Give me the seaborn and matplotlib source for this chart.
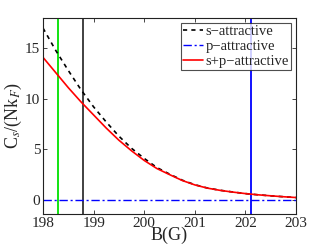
import numpy as np
import pandas as pd
import matplotlib
matplotlib.use('Agg')
import matplotlib.pyplot as plt
import seaborn as sns

# data
B = [198.0, 198.25, 198.5, 198.75, 199.0, 199.25, 199.5, 199.75, 200.0, 200.25, 200.5,
     200.75, 201.0, 201.25, 201.5, 201.75, 202.0, 202.25, 202.5, 202.75, 203.0]
s_attr = [17.0, 14.8, 12.8, 10.9, 9.2, 7.7, 6.3, 5.1, 4.1, 3.2, 2.55,
          1.95, 1.5, 1.17, 0.95, 0.78, 0.62, 0.5, 0.4, 0.31, 0.23]
p_attr = [0.0] * len(B)
sp_attr = [14.1, 12.6, 11.1, 9.7, 8.4, 7.1, 5.9, 4.85, 3.9, 3.1, 2.5,
           1.92, 1.48, 1.16, 0.94, 0.77, 0.62, 0.5, 0.4, 0.31, 0.23]
vlines = [198.3, 198.8, 202.1]
vline_colors = ['#00e000', '#333333', '#0000ff']

df = pd.DataFrame({'B': B, 's': s_attr, 'p': p_attr, 'sp': sp_attr})

sns.set_style('ticks')
plt.rcParams['font.family'] = ['Liberation Serif', 'DejaVu Serif']
plt.rcParams['mathtext.fontset'] = 'stix'
plt.rcParams['xtick.direction'] = 'in'
plt.rcParams['ytick.direction'] = 'in'

fig = plt.figure(figsize=(3.27, 2.46), dpi=100)
ax = fig.add_axes([0.1315, 0.13, 0.774, 0.797])

for x, c in zip(vlines, vline_colors):
    ax.axvline(x, color=c, lw=1.3)

sns.lineplot(data=df, x='B', y='s', ax=ax, color='black', lw=1.2, linestyle=(0, (2.5, 2.5)), label='s\u2212attractive')
sns.lineplot(data=df, x='B', y='p', ax=ax, color='blue', lw=1.0, linestyle=(0, (6, 2, 1.5, 2)), label='p\u2212attractive')
sns.lineplot(data=df, x='B', y='sp', ax=ax, color='red', lw=1.2, label='s+p\u2212attractive')

ax.set_xlim(198, 203)
ax.set_ylim(-1.4, 18)
ax.set_xticks([198, 199, 200, 201, 202, 203])
ax.set_yticks([0, 5, 10, 15])
ax.tick_params(labelsize=11, length=3, width=0.6, top=True, right=True, pad=2)
for sp in ax.spines.values():
    sp.set_linewidth(0.8)
    sp.set_color('#222222')

ax.set_xlabel('B(G)', fontsize=13, labelpad=-2)
ax.set_ylabel(r'C$_s$/(Nk$_F$)', fontsize=13, labelpad=1)

leg = ax.legend(loc='upper right', fontsize=10.5, frameon=True, fancybox=False,
                borderpad=0.15, labelspacing=0.1, handlelength=1.4, handletextpad=0.15,
                borderaxespad=0.35)
leg.get_frame().set_edgecolor('#222222')
leg.get_frame().set_linewidth(0.8)

plt.savefig('out.png', dpi=100)
